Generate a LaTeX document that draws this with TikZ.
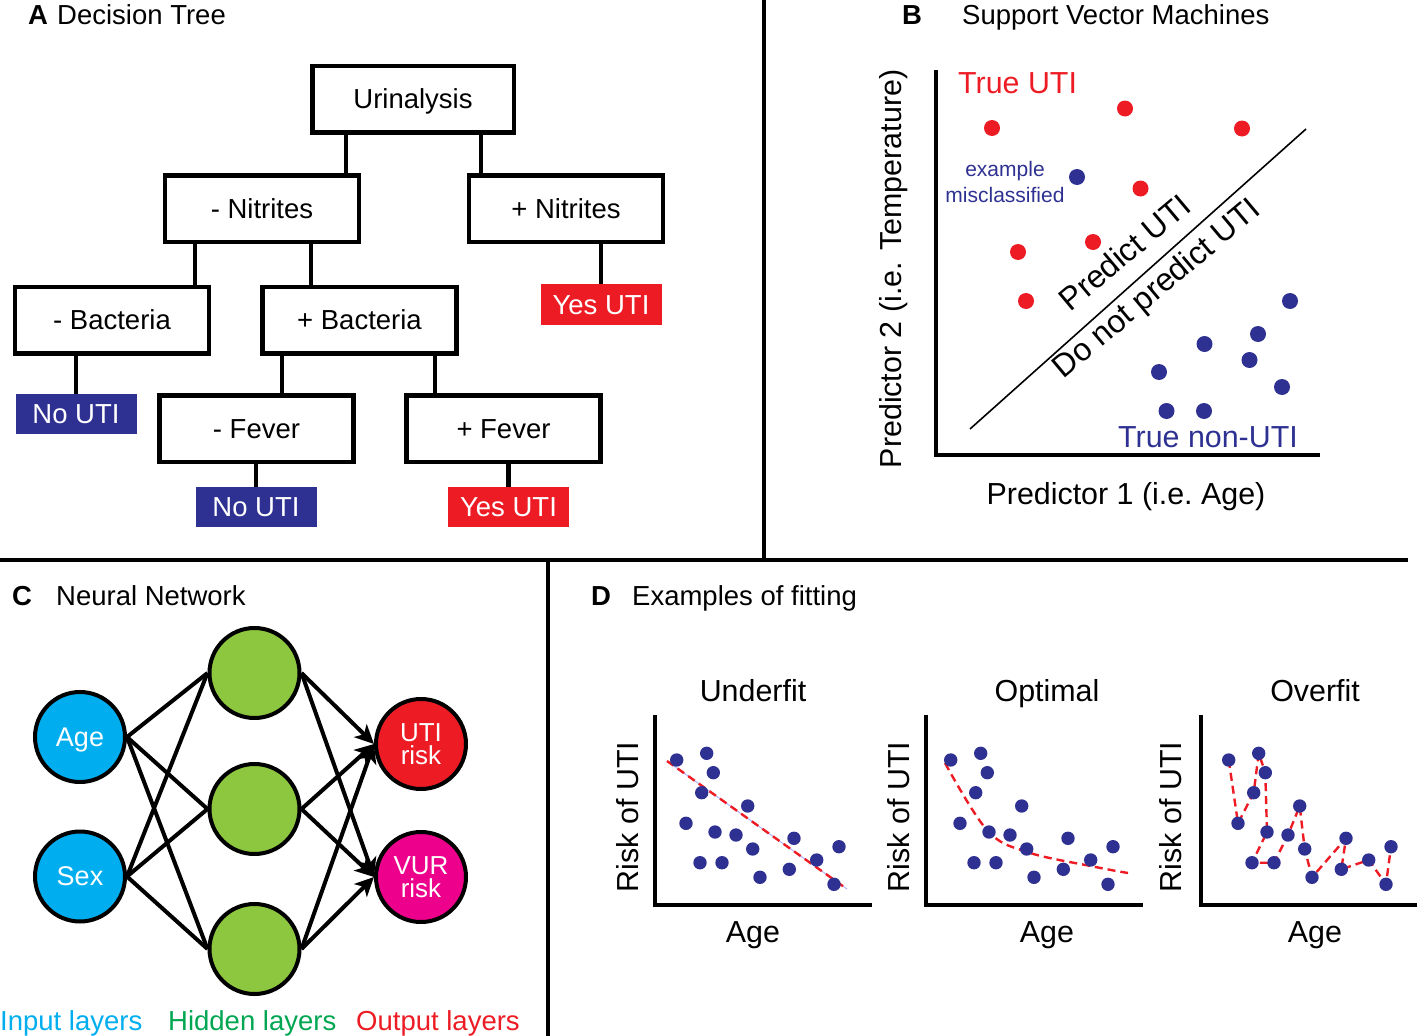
\documentclass[tikz,border=0pt]{standalone}
\usepackage{fontspec}
\setmainfont{Liberation Sans}
\usepackage{tikz}
\usetikzlibrary{math,calc,arrows.meta}
\definecolor{UtiRed}{RGB}{237,28,36}
\definecolor{UtiBlue}{RGB}{46,49,146}
\definecolor{NetCyan}{RGB}{0,174,239}
\definecolor{NetGreen}{RGB}{141,198,63}
\definecolor{NetPink}{RGB}{236,0,140}
\definecolor{HiddenGreen}{RGB}{0,166,81}
\tikzset{%
  pixels/.style={x=1pt,y=-1pt},
  txt/.style={inner sep=0pt,font=\fontsize{27.5}{31}\selectfont},
  txt big/.style={inner sep=0pt,font=\fontsize{30.4}{34}\selectfont},
  txt small/.style={inner sep=0pt,font=\fontsize{21}{26}\selectfont},
  txt diag/.style={inner sep=0pt,font=\fontsize{32}{36}\selectfont,rotate=40,anchor=base},
  panel letter/.style={txt,anchor=base west,font=\fontsize{27.5}{31}\selectfont\bfseries},
  panel title/.style={txt,anchor=base west},
  panel rule/.style={line width=3.5pt},
  tree box/.style={txt,draw,line width=4.5pt,minimum width=194pt,minimum height=66.5pt,text height=19.7pt,text depth=0pt},
  leaf box/.style={txt,fill=#1,text=white,minimum width=121pt,minimum height=40.5pt,text height=19.7pt,text depth=0pt},
  tree line/.style={line width=4.5pt},
  net node/.style={circle,draw,line width=4pt,minimum size=90pt,inner sep=0pt,text=white,text depth=0pt,align=center,font=\fontsize{27}{23}\selectfont},
  net line/.style={line width=4pt},
  axis line/.style={line width=4pt},
  fit line/.style={UtiRed,line width=2.4pt,dash pattern=on 8pt off 5pt}
}
\newcommand*{\TreeLink}[3]{\draw[tree line] ($(#2.north)+(#3,0)$) -- ($(#2.north |- #1.south)+(#3,0)$);}

\begin{document}
\begin{tikzpicture}[pixels]
    \tikzmath{
      \rB=8;% dot radius, panel B
      \rD=6.7;% dot radius, panel D
    }
    \useasboundingbox (0,0) rectangle (1417,1036);
    % Panel rules.
    \draw[panel rule] (764,0) -- (764,560);
    \draw[panel rule] (0,560) -- (1408,560);
    \draw[panel rule] (548,560) -- (548,1036);
    % A. Decision tree.
    \node[panel letter] (letterA) at (28,24) {A};
    \node[panel title] (headA) at (57,24) {Decision Tree};
    \node[tree box,minimum width=201.5pt] (uri) at (413,99) {Urinalysis};
    \node[tree box] (nitneg) at (262,208.5) {- Nitrites};
    \node[tree box] (nitpos) at (566,208.5) {+ Nitrites};
    \node[tree box] (bacneg) at (112,320) {- Bacteria};
    \node[tree box] (bacpos) at (359.5,320) {+ Bacteria};
    \node[tree box] (fevneg) at (256.5,428.5) {- Fever};
    \node[tree box] (fevpos) at (503.5,428.5) {+ Fever};
    \node[leaf box=UtiRed] (yes1) at (601,304.5) {Yes UTI};
    \node[leaf box=UtiBlue] (no1) at (76,414) {No UTI};
    \node[leaf box=UtiBlue] (no2) at (256,507) {No UTI};
    \node[leaf box=UtiRed] (yes2) at (508.5,507) {Yes UTI};
    \TreeLink{uri}{nitneg}{84}
    \TreeLink{uri}{nitpos}{-85}
    \TreeLink{nitneg}{bacneg}{83}
    \TreeLink{nitneg}{bacpos}{-48.5}
    \TreeLink{nitpos}{yes1}{0}
    \TreeLink{bacneg}{no1}{0}
    \TreeLink{bacpos}{fevneg}{25.5}
    \TreeLink{bacpos}{fevpos}{-68.5}
    \TreeLink{fevneg}{no2}{0}
    \TreeLink{fevpos}{yes2}{0}
    % B. Support vector machines.
    \node[panel letter] (letterB) at (902,24) {B};
    \node[panel title] (headB) at (962,24) {Support Vector Machines};
    \draw[axis line] (935.5,70) -- (935.5,455) -- (1320,455);
    \draw[line width=1.6pt] (970,429) -- (1306,129);
    \foreach \x/\y in {992/128,1125/108.5,1242/128.5,1140.5/188.5,1093/242,1018/252,1026/301}
      \fill[UtiRed] (\x,\y) circle[radius=\rB pt];
    \foreach \x/\y in {1077/177,1290/301,1258/334,1204.5/344,1249.5/360,1159/372,1282/387,1166.5/411,1204/411}
      \fill[UtiBlue] (\x,\y) circle[radius=\rB pt];
    \node[txt big,anchor=base west,text=UtiRed] (trueUti) at (958,93) {True UTI};
    \node[txt big,anchor=base west,text=UtiBlue] (trueNon) at (1118,447) {True non-UTI};
    \node[txt small,align=center,text=UtiBlue] (misclass) at (1005,181.5) {example\\misclassified};
    \node[txt diag] (predUti) at (1132,261) {Predict UTI};
    \node[txt diag] (predNon) at (1163,296) {Do not predict UTI};
    \node[txt big,anchor=base,rotate=90] (ylabB) at (901,269) {Predictor 2 (i.e.\ \hspace{3pt}Temperature)};
    \node[txt big,anchor=base] (xlabB) at (1126,504) {Predictor 1 (i.e.\ Age)};
    % C. Neural network.
    \node[panel letter] (letterC) at (12,605) {C};
    \node[panel title] (headC) at (56,605) {Neural Network};
    \node[net node,fill=NetCyan] (inAge) at (80,737) {Age};
    \node[net node,fill=NetCyan] (inSex) at (80,876.5) {Sex};
    \foreach \y [count=\i] in {673,809,949}
      \node[net node,fill=NetGreen] (hid\i) at (254.5,\y) {};
    \node[net node,fill=UtiRed,font=\fontsize{26}{23}\selectfont] (outUti) at (421,744) {UTI\\risk};
    \node[net node,fill=NetPink,font=\fontsize{26}{23}\selectfont] (outVur) at (421,877) {VUR\\risk};
    \foreach \a in {inAge,inSex}
      \foreach \i in {1,2,3}
        \draw[net line] (\a.east) -- (hid\i.west);
    \foreach \i in {1,2,3}
      \foreach \b in {outUti,outVur}
        \draw[net line,-{Stealth[length=19pt,width=18pt,inset=5pt]}] (hid\i.east) -- (\b.west);
    \node[txt,anchor=base west,text=NetCyan] (lblIn) at (0,1030) {Input layers};
    \node[txt,anchor=base west,text=HiddenGreen] (lblHid) at (168,1030) {Hidden layers};
    \node[txt,anchor=base west,text=UtiRed] (lblOut) at (356,1030) {Output layers};
    % D. Examples of fitting.
    \node[panel letter] (letterD) at (591,605) {D};
    \node[panel title] (headD) at (632,605) {Examples of fitting};
    \foreach \ax/\lx/\rx/\fit [count=\k] in {0/753/638/Underfit,271/1047/909/Optimal,546/1315/1181/Overfit}{
      \draw[axis line] (655+\ax,715) -- (655+\ax,905) -- (872+\ax,905);
      \node[txt big,anchor=base] (fit\k) at (\lx,701) {\fit};
      \node[txt big,anchor=base] (age\k) at (\lx,942) {Age};
      \node[txt big,anchor=base,rotate=90] (risk\k) at (\rx,817) {Risk of UTI};
    }
    % Fitted curves, under the dots.
    \draw[blue!30,line width=1pt] (667,761) -- (847,889);
    \draw[fit line] (667,761) -- (847,889);
    \draw[fit line] plot[smooth,tension=0.6] coordinates {(945,763) (987,830) (1027,852) (1093,866.5) (1128,873)};
    \draw[fit line,xshift=552pt] (676.7,760) -- (686,823.3) -- (701.7,792.7) -- (706.7,753.3)
      -- (713.3,772.7) -- (715,832) -- (700,862.7) -- (722,862.7) -- (736,835) -- (747.7,806)
      -- (752.7,849) -- (760,877.3) -- (794,838.3) -- (789.3,869.3) -- (816.7,860)
      -- (834,884.3) -- (839,846.7);
    \foreach \dx in {0,274,552}
      \foreach \x/\y in {676.7/760,706.7/753.3,713.3/772.7,701.7/792.7,747.7/806,686/823.3,
        715/832,736/835,752.7/849,794/838.3,839/846.7,816.7/860,700/862.7,722/862.7,
        760/877.3,789.3/869.3,834/884.3}
        \fill[UtiBlue] (\x+\dx,\y) circle[radius=\rD pt];
\end{tikzpicture}
\end{document}
